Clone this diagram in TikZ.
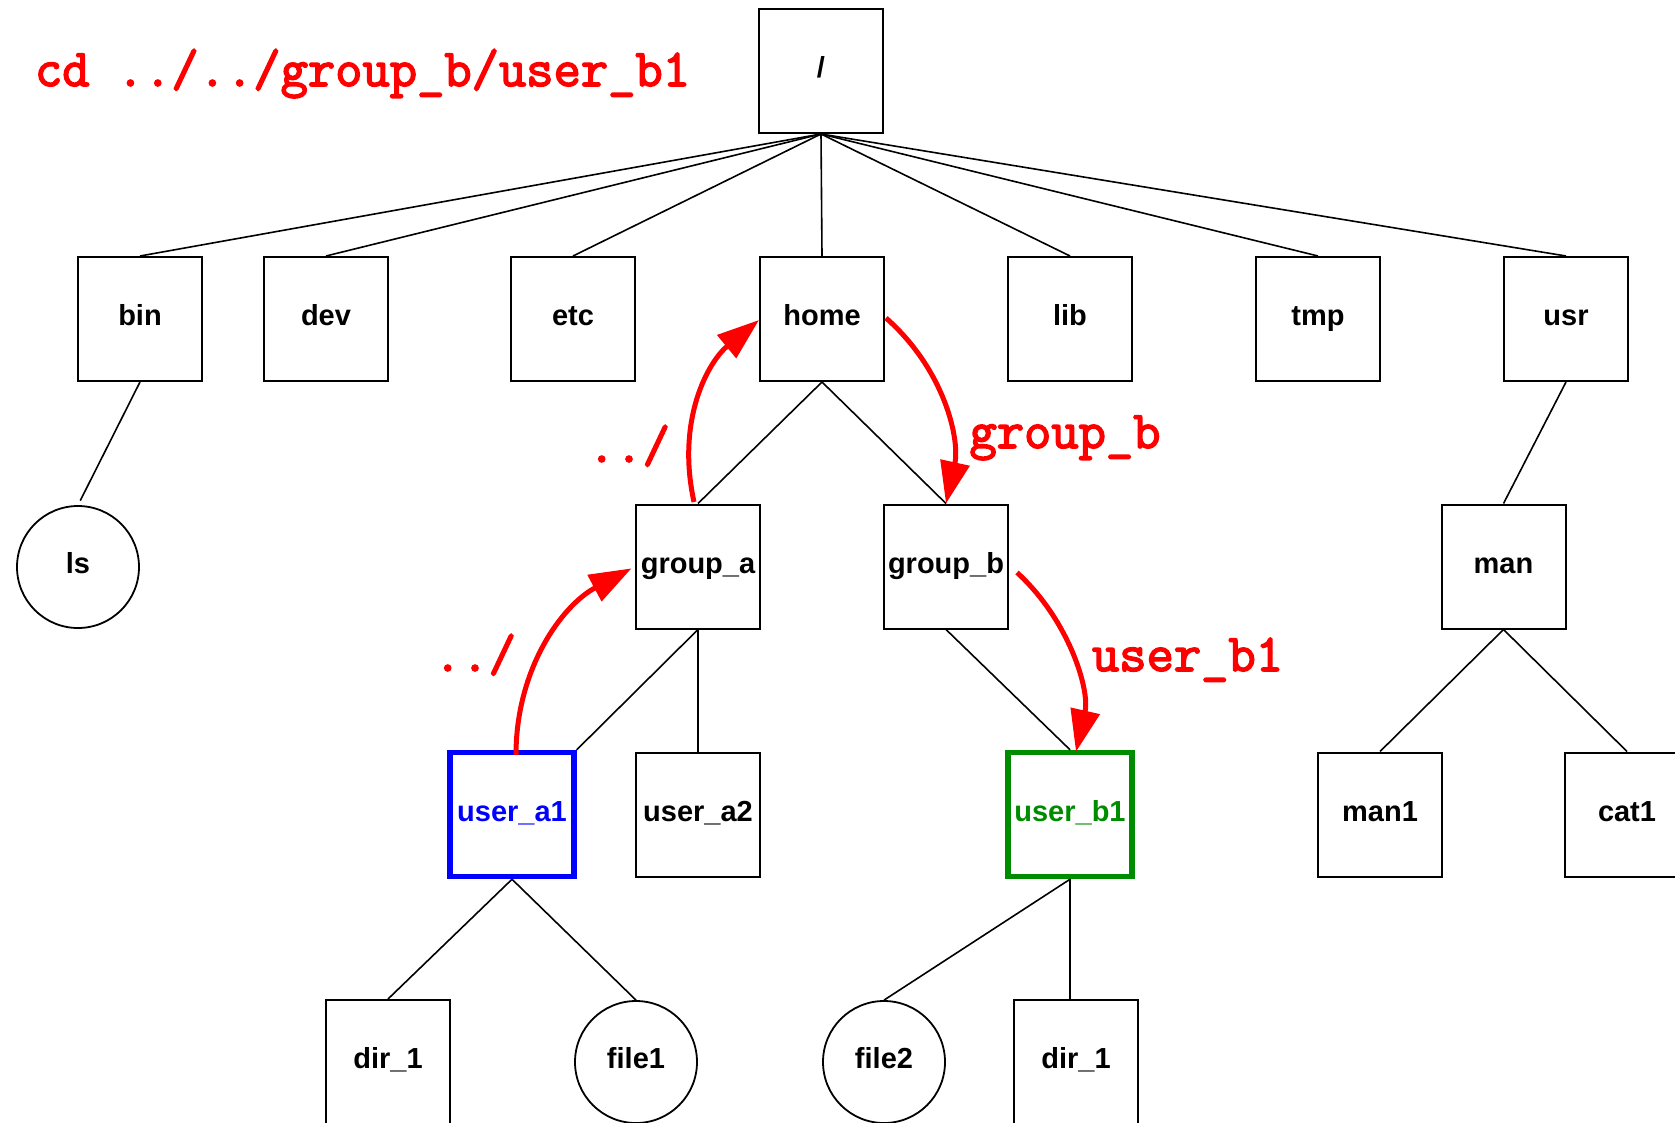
\documentclass[tikz,border=0pt]{standalone}
\usepackage{fontspec}
\setmainfont{Liberation Sans}
\newfontfamily\cmdfont{Latin Modern Mono}[FakeBold=3]
\usetikzlibrary{arrows.meta}
\definecolor{pathred}{RGB}{255,0,0}
\definecolor{cwdblue}{RGB}{0,0,255}
\definecolor{destgreen}{RGB}{0,140,0}

\begin{document}
\begin{tikzpicture}[x=1pt,y=-1pt,
  treelabel/.style={font=\bfseries\fontsize{29}{34}\selectfont, text height=20pt, text depth=7pt, inner sep=0pt},
  dirbox/.style={treelabel, draw, line width=2pt, minimum width=124pt, minimum height=124pt},
  filenode/.style={treelabel, draw, circle, line width=1.8pt, minimum size=122pt},
  cwdbox/.style={dirbox, draw=cwdblue, text=cwdblue, line width=5.5pt},
  destbox/.style={dirbox, draw=destgreen, text=destgreen, line width=5.5pt},
  treeedge/.style={line width=1.6pt},
  cdmove/.style={draw=pathred, line width=5pt, -{Triangle[length=42pt,width=29pt]}},
  cmdtext/.style={text=pathred, font=\cmdfont\fontsize{53}{60}\selectfont, anchor=base, inner sep=0pt}
]
\useasboundingbox (0,0) rectangle (1675,1122);
\clip (0,0) rectangle (1675,1122);

% root directory
\node[dirbox] (root) at (821,71) {/};

% first level
\node[dirbox] (bin)  at (140,319)  {bin};
\node[dirbox] (dev)  at (326,319)  {dev};
\node[dirbox] (etc)  at (573,319)  {etc};
\node[dirbox] (home) at (822,319)  {home};
\node[dirbox] (lib)  at (1070,319) {lib};
\node[dirbox] (tmp)  at (1318,319) {tmp};
\node[dirbox] (usr)  at (1566,319) {usr};

% second level
\node[filenode] (ls)     at (78,567)    {ls};
\node[dirbox]   (groupa) at (698,566.5) {group\_a};
\node[dirbox]   (groupb) at (946,566.5) {group\_b};
\node[dirbox]   (man)    at (1503.5,566.5) {man};

% third level
\node[cwdbox]  (usera1) at (512,814.5)  {user\_a1};
\node[dirbox]  (usera2) at (698,814.5)  {user\_a2};
\node[destbox] (userb1) at (1070,814.5) {user\_b1};
\node[dirbox]  (man1)   at (1380,814.5) {man1};
\node[dirbox]  (cat1)   at (1627,814.5) {cat1};

% fourth level
\node[dirbox]   (dira)  at (388,1062)  {dir\_1};
\node[filenode] (file1) at (636,1062)  {file1};
\node[filenode] (file2) at (884,1062)  {file2};
\node[dirbox]   (dirb)  at (1076,1062) {dir\_1};

% tree edges
\foreach \child in {bin,dev,etc,home,lib,tmp,usr}
  \draw[treeedge] (root.south) -- (\child.north);
\draw[treeedge, shorten >=5pt] (bin.south) -- (ls.north);
\draw[treeedge] (home.south) -- (groupa.north);
\draw[treeedge] (home.south) -- (groupb.north);
\draw[treeedge] (usr.south) -- (man.north);
\draw[treeedge] (groupa.south) -- (usera1.north east);
\draw[treeedge] (groupa.south) -- (usera2.north);
\draw[treeedge] (groupb.south) -- (userb1.north);
\draw[treeedge] (man.south) -- (man1.north);
\draw[treeedge] (man.south) -- (cat1.north);
\draw[treeedge] (usera1.south) -- (dira.north);
\draw[treeedge] (usera1.south) -- (file1.north);
\draw[treeedge] (userb1.south) -- (file2.north);
\draw[treeedge] (userb1.south) -- (userb1.south |- dirb.north);

% the cd path, step by step
\draw[cdmove, shorten >=4pt] ([xshift=4pt,yshift=-5pt]usera1.north)
  .. controls (516,670) and (561,606) .. (groupa.west);
\draw[cdmove] ([xshift=-4pt,yshift=1.5pt]groupa.north)
  .. controls (676,420) and (708,362) .. ([yshift=-1pt]home.west);
\draw[cdmove] ([xshift=1pt,yshift=1pt]home.east)
  .. controls (945,370) and (960,440) .. (groupb.north);
\draw[cdmove] ([xshift=8pt,yshift=-6pt]groupb.east)
  .. controls (1069,620) and (1090,690) .. ([xshift=6pt,yshift=-2pt]userb1.north);

% command and step labels
\node[cmdtext] (cdline) at (362.5,86) {cd ../../group\_b/user\_b1};
\node[cmdtext] (upa)    at (629,462)  {../};
\node[cmdtext] (upb)    at (475,671)  {../};
\node[cmdtext] (tob)    at (1065,448) {group\_b};
\node[cmdtext] (tob1)   at (1187.5,671) {user\_b1};
\end{tikzpicture}
\end{document}
